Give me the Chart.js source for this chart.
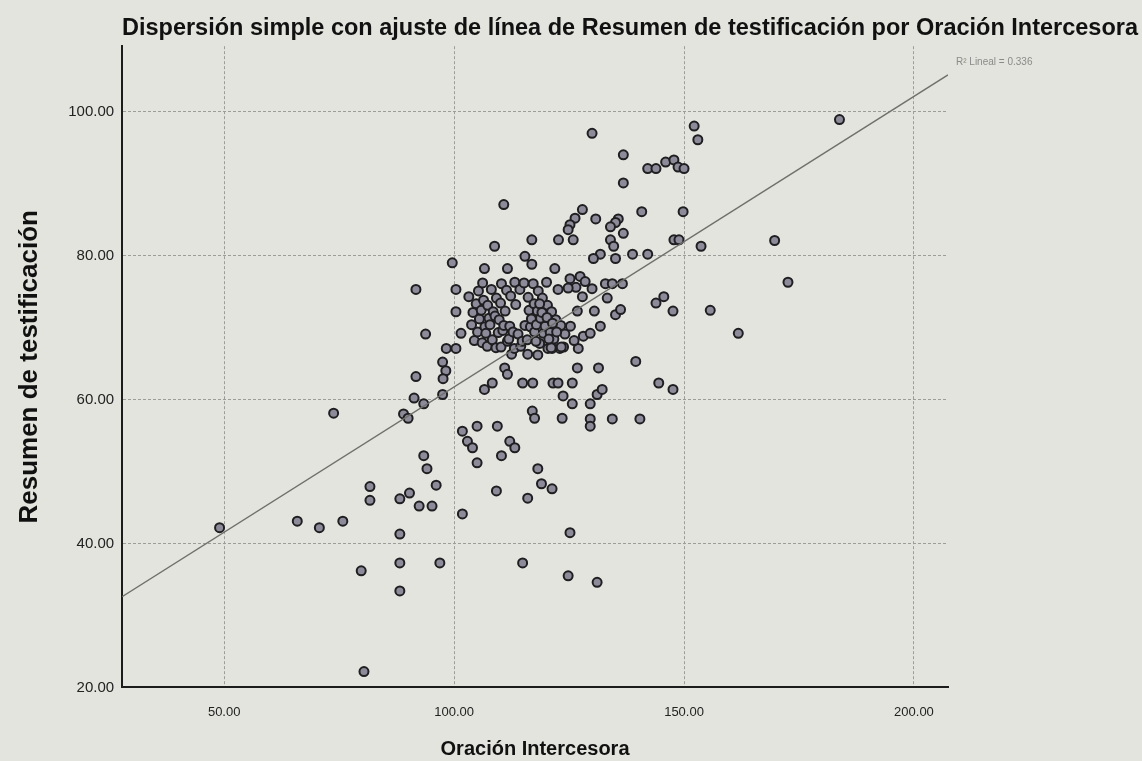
<!DOCTYPE html>
<html>
<head>
<meta charset="utf-8">
<title>Dispersión simple</title>
<script src="https://cdn.jsdelivr.net/npm/chart.js@4.4.1/dist/chart.umd.min.js"></script>
<style>
    body { margin: 0; background: #e3e4dd; }
    #wrap { width: 1142px; height: 761px; position: relative; }
</style>
</head>
<body>
<div id="wrap"><canvas id="scatterChart"></canvas></div>
<script>
// Oración Intercesora (x) / Resumen de testificación (y)
const oracion = [
    49, 65.9, 70.7, 75.8, 73.8, 79.8, 80.4, 81.7, 81.7, 88.2, 90.3, 88.2, 88.2, 88.2, 96.9, 92.4, 95.2, 96.1, 93.4, 94.1,
    101.8, 114.9, 124.8, 125.2, 131.1, 105, 109.2, 118.2, 119, 121.3, 116, 110.3, 112.1, 113.2, 105, 109.4, 101.8, 102.9, 104,
    89, 90, 91.3, 93.4, 91.7, 97.5, 97.5, 98.2, 97.6, 98.3, 100.4, 91.7, 93.8, 100.4, 100.4, 101.5, 99.6, 106.6, 111.6, 108.8,
    110.8, 116.9, 115.4, 116.9, 106.6, 108.3, 111, 111.6, 114.9, 117.1, 116, 123.5, 123.7, 125.7, 117, 117.5, 121.5, 122.6,
    125.7, 126.8, 131.4, 139.5, 144.5, 147.6, 129.6, 131.1, 132.2, 129.6, 129.6, 134.4, 140.4,
    130, 152.2, 153, 183.8, 136.8, 142.1, 143.9, 146, 147.8, 148.7, 150, 136.8, 140.8, 149.8, 127.9, 126.3, 125.2, 124.8,
    130.8, 135.7, 135.1, 134, 136.8, 122.7, 125.9, 134, 134.7, 147.8, 148.9, 153.7, 169.7, 172.6, 131.8, 130.3, 135.1, 138.8,
    142.1, 121.9, 125.2, 127.4, 128.5, 130, 126.5, 124.8, 132.9, 134.4, 136.6, 122.6, 127.9, 133.3, 126.8, 130.5, 135.1, 136.2,
    131.8, 128.1, 129.6, 127, 123, 121.3, 118.6, 143.9, 145.6, 147.6, 155.7, 161.8,
    103.2, 104.1, 103.8, 104.4, 105.3, 104.8, 105.5, 105.1, 106.2, 106.4, 105.9, 106.7, 106.1, 107.3, 107.6, 106.9, 107.2,
    108.1, 108.5, 107.8, 108.3, 109.2, 108.9, 109.6, 109.1, 110.3, 110.1, 109.8, 110.6, 110.2, 111.4, 111.1, 110.8, 111.6,
    112.3, 112.1, 111.9, 112.5, 113.2, 113.4, 112.8, 113.1, 114.3, 113.9, 114.5, 115.2, 115.4, 114.8, 116.1, 116.3, 116.6,
    115.9, 117.2, 117.4, 116.8, 117.5, 118.3, 118.1, 117.9, 119.2, 118.8, 119.4, 120.1, 120.3, 119.8, 121.2, 120.9, 122.1,
    121.7, 123.2, 124.1, 125.3, 123.8, 126.1, 120.4, 118.2, 118.6, 119.1, 120.2, 121.4, 122.3, 121.1, 123.3, 117.8, 120.6
];
const resumen = [
    42.2, 43.1, 42.2, 43.1, 58.1, 36.2, 22.2, 47.9, 46, 46.2, 47, 41.3, 37.3, 33.4, 37.3, 45.2, 45.2, 48.1, 52.2, 50.4,
    44.1, 37.3, 35.5, 41.5, 34.6, 51.2, 47.3, 50.4, 48.3, 47.6, 46.3, 52.2, 54.2, 53.3, 56.3, 56.3, 55.6, 54.2, 53.3,
    58, 57.4, 60.2, 59.4, 63.2, 60.7, 65.2, 64, 62.9, 67.1, 67.1, 75.3, 69.1, 75.3, 72.2, 69.2, 79, 78.2, 78.2, 81.3,
    87.1, 82.2, 79.9, 78.8, 61.4, 62.3, 64.4, 63.5, 62.3, 62.3, 66.3, 57.4, 60.5, 59.4, 58.4, 57.4, 62.3, 62.3,
    62.3, 64.4, 64.4, 65.3, 62.3, 61.4, 59.4, 60.7, 61.4, 57.3, 56.3, 57.3, 57.3,
    97, 98, 96.1, 98.9, 94, 92.1, 92.1, 93, 93.3, 92.3, 92.1, 90.1, 86.1, 86.1, 86.4, 85.2, 84.3, 83.6,
    85.1, 85.1, 84.6, 84, 83.1, 82.2, 82.2, 82.2, 81.3, 82.2, 82.2, 81.3, 82.1, 76.3, 80.2, 79.6, 79.6, 80.2,
    80.2, 78.2, 76.8, 77.1, 76.4, 75.4, 75.6, 75.5, 76.1, 76.1, 76.1, 75.3, 74.3, 74.1, 72.3, 72.3, 71.8, 72.5,
    70.2, 68.8, 69.2, 67.1, 67.1, 67.1, 67.8, 73.4, 74.3, 72.3, 72.4, 69.2,
    74.3, 72.1, 70.4, 68.2, 75.1, 73.3, 71.2, 69.4, 76.2, 73.8, 72.4, 70.1, 67.9, 73.1, 71.3, 69.2, 67.4,
    75.3, 72.2, 70.4, 68.3, 74.1, 71.6, 69.3, 67.2, 76.1, 73.4, 71.1, 69.6, 67.3, 75.2, 72.3, 70.3, 68.1,
    74.4, 70.2, 68.4, 66.3, 76.3, 73.2, 69.4, 67.1, 75.3, 69.1, 67.4, 76.2, 70.3, 68.1, 74.2, 72.4, 70.1,
    68.3, 76.1, 73.3, 71.2, 69.4, 75.1, 72.3, 70.4, 74.1, 71.3, 69.2, 76.3, 73.1, 70.2, 72.2, 69.3, 71.1,
    68.4, 70.3, 69.1, 70.2, 67.3, 68.2, 67.1, 66.2, 73.3, 72.1, 71.4, 70.6, 69.4, 67.2, 67.3, 68.1, 68.4
];

// fitted line end points and its R²
const fitX = [27.8, 207.4];
const fitY = [32.6, 105.1];
const rSquared = '0.336';

const xTicks = [50, 100, 150, 200];
const yTicks = [20, 40, 60, 80, 100];

document.addEventListener('DOMContentLoaded', function () {

    const points = oracion.map((x, i) => ({ x: x, y: resumen[i] }));
    const fitLine = fitX.map((x, i) => ({ x: x, y: fitY[i] }));

    // R² label next to the end of the fit line
    const r2Label = {
        id: 'r2Label',
        afterDatasetsDraw(chart) {
            const meta = chart.getDatasetMeta(0);
            const last = meta.data[meta.data.length - 1];
            const c = chart.ctx;
            c.save();
            c.font = '10px "Liberation Sans", Arial, sans-serif';
            c.fillStyle = '#8a8a8a';
            c.textAlign = 'left';
            c.textBaseline = 'middle';
            c.fillText('R² Lineal = ' + rSquared, last.x + 8, last.y - 13);
            c.restore();
        }
    };

    const font = '"Liberation Sans", Arial, sans-serif';

    const ctx = document.getElementById('scatterChart').getContext('2d');
    const scatterChart = new Chart(ctx, {
        type: 'scatter',
        data: {
            datasets: [{
                type: 'line',
                label: 'Lineal',
                data: fitLine,
                borderColor: '#6f706c',
                borderWidth: 1.5,
                pointRadius: 0,
                order: 0
            }, {
                label: 'Resumen de testificación',
                data: points,
                backgroundColor: '#8d8b99',
                borderColor: '#1f1f22',
                borderWidth: 2,
                pointRadius: 4.5,
                order: 1
            }]
        },
        options: {
            responsive: true,
            maintainAspectRatio: false,
            animation: false,
            layout: { padding: { left: 14, right: 4, top: 0, bottom: 0 } },
            plugins: {
                legend: { display: false },
                tooltip: { enabled: false },
                title: {
                    display: true,
                    text: 'Dispersión simple con ajuste de línea de Resumen de testificación por Oración Intercesora',
                    align: 'end',
                    color: '#111',
                    font: { family: font, size: 23.5, weight: 'bold' },
                    padding: { top: 14, bottom: 4 }
                }
            },
            scales: {
                x: {
                    type: 'linear',
                    min: 27.8,
                    max: 207.4,
                    afterBuildTicks: (axis) => { axis.ticks = xTicks.map(v => ({ value: v })) },
                    grid: { color: '#9c9d98', lineWidth: 1, drawTicks: false },
                    border: { display: true, color: '#1c1c1c', width: 2, dash: [3, 2] },
                    ticks: {
                        padding: 17,
                        color: '#222',
                        font: { family: font, size: 13 },
                        callback: (v) => v.toFixed(2)
                    },
                    title: {
                        display: true,
                        text: 'Oración Intercesora',
                        color: '#111',
                        font: { family: font, size: 20, weight: 'bold' },
                        padding: { top: 0, bottom: 0 }
                    }
                },
                y: {
                    type: 'linear',
                    min: 20,
                    max: 109.1,
                    afterBuildTicks: (axis) => { axis.ticks = yTicks.map(v => ({ value: v })) },
                    grid: { color: '#9c9d98', lineWidth: 1, drawTicks: false },
                    border: { display: true, color: '#1c1c1c', width: 2, dash: [3, 2] },
                    ticks: {
                        padding: 8,
                        color: '#222',
                        font: { family: font, size: 15 },
                        callback: (v) => v.toFixed(2)
                    },
                    title: {
                        display: true,
                        text: 'Resumen de testificación',
                        color: '#111',
                        font: { family: font, size: 26, weight: 'bold' },
                        padding: { top: 0, bottom: 15 }
                    }
                },
                // empty right-hand axis, only keeps room for the R² label
                yRight: {
                    type: 'linear',
                    position: 'right',
                    min: 20,
                    max: 109.1,
                    grid: { display: false },
                    border: { display: false },
                    ticks: { display: false },
                    afterFit: (axis) => { axis.width = 190 }
                }
            }
        },
        plugins: [r2Label]
    });

});
</script>
</body>
</html>
